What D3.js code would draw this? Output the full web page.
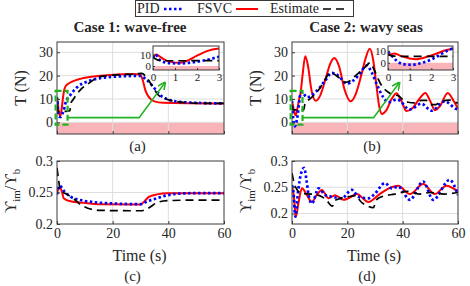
<!DOCTYPE html>
<html>
<head>
<meta charset="utf-8">
<script src="https://cdn.jsdelivr.net/npm/d3@7"></script>
<style>
  body { margin: 0; background: #fff; }
  text { font-family: "Liberation Serif", "Times New Roman", serif; fill: #262626; }
</style>
</head>
<body>
<div id="chart"></div>
<script>
// time axis + ticks
const timeTicks = [0, 20, 40, 60];
const tensionTicks = [0, 10, 20, 30];
const ratioTicks = [0.2, 0.25, 0.3];
const ratioTickLabels = ['0.2', '0.25', '0.3'];
const insetTimeTicks = [0, 1, 2, 3];
const insetTensionTicks = [0, 10];

const seriesNames = ['PID', 'FSVC', 'Estimate'];
const titles = ['Case 1: wave-free', 'Case 2: wavy seas'];
const panelTags = ['(a)', '(b)', '(c)', '(d)'];

// (a) tension, wave-free  [t, T]
const pidA = [[0,7.4],[0.1,10.3],[0.3,5.5],[0.7,2.6],[1.3,2.3],[2,3.8],[2.6,6],[3,8.1],[4.8,11.7],[7.2,15],[10.8,17.4],[15.5,18.9],[21.5,19.6],[30,19.9],[32.3,18.1],[34.7,15],[37,11.7],[39.4,10],[43,8.9],[49,8.4],[60,8.1]];
const fsvcA = [[0,6.5],[0.12,10],[0.3,8.5],[0.5,5.8],[0.8,3.6],[1.2,2.8],[1.5,4.2],[2,9],[2.45,13],[3,15.3],[4,16.5],[5.4,17.4],[8.4,18.6],[13,19.6],[19,20.3],[27.5,20.7],[29.9,20.4],[30.8,18.1],[31.7,13.9],[32.9,11],[34.7,9.1],[38.2,8.4],[60,8.1]];
const estA = [[0,7.4],[0.3,4.8],[0.6,4.6],[3,4.7],[4.6,5],[5.1,8.5],[5.7,9.6],[8.4,13.9],[11.4,16.7],[15.5,19.6],[21.5,20.3],[27.5,20.7],[30.5,21],[31.7,19.9],[34,16],[36.4,11.7],[39.4,9.9],[43,8.9],[46.6,8.4],[52,8.1],[60,8.1]];

// (b) tension, wavy seas
const pidB = [[0,9.2],[0.15,6.4],[0.4,1.7],[0.7,-1.1],[1.1,-1.7],[1.45,-0.6],[2.1,3.6],[2.55,8.3],[3,12],[3.5,13.1],[5.4,10.7],[7,11.5],[9.6,14.3],[12,17.9],[14.4,21.2],[16.5,20.2],[19.8,16.6],[22,17.8],[24,20],[27,24.3],[28.8,21.4],[30.6,16.4],[33,10.7],[34.8,8.6],[38,9.8],[42.6,5.5],[46.8,8],[50.4,5],[55.2,9],[59.4,5.7],[60,5.5]];
const fsvcB = [[0,6.4],[0.3,7.8],[0.55,6],[1,3.6],[1.3,3],[1.8,5],[2.25,7.8],[2.7,10.6],[3,11.8],[3.8,20],[4.8,28.3],[5.8,24],[7,14],[8.6,9.2],[10,11],[12,18],[13.8,25],[15.3,27.5],[17,24],[19,14],[21.2,9],[23,12],[25,20],[26.5,27],[28.1,31.5],[29.3,27],[30.5,16],[31.5,7],[32.5,3.6],[34,5],[36,10],[37.8,12.5],[39.6,9],[41.4,4.8],[43.5,6],[46,10],[48.2,12.6],[50,9],[51.7,5.2],[53.5,7],[56.3,12.6],[58.5,9],[60,5.8]];
const estB = [[0,7.2],[0.23,5.6],[1,5.3],[3,5.3],[4.2,5.3],[4.8,8.5],[6,9.6],[7.8,11.4],[10,14.5],[12,18.5],[13.8,21.3],[15,20.8],[16.8,19.3],[19.2,17.1],[21,17.8],[23,20],[26.4,23.6],[28.2,25.5],[29.5,23],[31,19],[32.4,15.7],[34.8,12.9],[36.5,11.8],[38.4,11.4],[40.2,9.6],[42,8.6],[44.4,8.3],[46.8,9.4],[48.5,9.4],[50.4,7.6],[52,7.6],[54,9],[57,9.5],[58.5,8.8],[60,8.2]];

// (c) gap ratio, wave-free
const pidC = [[0,0.247],[1,0.261],[2.4,0.253],[4.8,0.2435],[8.4,0.238],[13.2,0.2347],[20.4,0.2325],[30,0.2314],[32.4,0.236],[36,0.241],[39.6,0.2456],[43,0.248],[50,0.249],[60,0.249]];
const fsvcC = [[0,0.25],[1,0.258],[1.8,0.251],[2.4,0.241],[4.8,0.236],[9.6,0.2336],[15.6,0.2314],[30,0.231],[31.2,0.235],[33,0.243],[36,0.247],[39.6,0.249],[60,0.249]];
const estC = [[0,0.289],[0.6,0.269],[1.2,0.253],[3.6,0.247],[6,0.24],[8.4,0.231],[10.8,0.2255],[15.6,0.2216],[30,0.221],[32.4,0.224],[36,0.234],[39.6,0.237],[50,0.238],[60,0.238]];

// (d) gap ratio, wavy seas
const pidD = [[0,0.254],[0.5,0.242],[1.2,0.194],[2.2,0.242],[3.2,0.275],[4.4,0.287],[5.2,0.265],[6,0.235],[7.2,0.219],[9.6,0.248],[12,0.235],[14.4,0.232],[18,0.229],[21.6,0.245],[24,0.232],[27.6,0.229],[30,0.238],[33.6,0.258],[36,0.248],[38.4,0.251],[42.6,0.226],[47.4,0.261],[51,0.226],[57,0.264],[60,0.235]];
const fsvcD = [[0,0.251],[0.6,0.235],[1.4,0.194],[2.4,0.222],[3.6,0.248],[5.4,0.235],[7.2,0.222],[9,0.236],[10.8,0.245],[13.2,0.229],[15.6,0.235],[18.6,0.226],[20.4,0.229],[23.4,0.237],[27.6,0.222],[31.2,0.235],[35,0.248],[38.4,0.253],[42.6,0.237],[47.4,0.256],[51.6,0.237],[55.8,0.253],[60,0.242]];
const estD = [[0,0.277],[1.2,0.251],[3.6,0.238],[7,0.237],[10.8,0.232],[12.5,0.225],[14.6,0.214],[15.4,0.224],[17,0.228],[20.4,0.232],[23.5,0.234],[24.5,0.225],[27,0.215],[29.4,0.211],[30.5,0.226],[32.4,0.232],[37.2,0.237],[42,0.242],[46,0.237],[50,0.24],[55,0.237],[60,0.24]];

// zoom box + pointer, in data units (t, T)
const zoomBox = [[-0.5, -1], [3.8, 13.5]];
const zoomPointer = [[3.8, 2], [29.5, 2], [38.8, 17]];

const W = 470, H = 286;
const svg = d3.select('#chart').append('svg').attr('width', W).attr('height', H);

const styles = {
  PID: {stroke: '#0000ff', width: 2.7, dash: '2.5,2.5'},
  FSVC: {stroke: '#ff0000', width: 2, dash: null},
  Estimate: {stroke: '#000', width: 1.7, dash: '8,5'}
};
const pink = '#f9b4b9';
const green = '#22b322';
const boxColor = '#3a3a3a';

const defs = svg.append('defs');
defs.append('marker').attr('id', 'arrow')
  .attr('viewBox', '0 0 10 10').attr('refX', 9).attr('refY', 5)
  .attr('markerWidth', 8).attr('markerHeight', 8)
  .attr('markerUnits', 'userSpaceOnUse').attr('orient', 'auto')
  .append('path').attr('d', 'M0,0 L10,5 L0,10').attr('fill', 'none')
  .attr('stroke', green).attr('stroke-width', 2);

let clipN = 0;
function drawSeries(g, x, y, data, clipId) {
  const line = d3.line().x(d => x(d[0])).y(d => y(d[1])).curve(d3.curveMonotoneX);
  const lg = g.append('g').attr('clip-path', `url(#${clipId})`);
  // red under blue, dashed black on top
  ['FSVC', 'PID', 'Estimate'].forEach(name => {
    const s = styles[name];
    lg.append('path').datum(data[name])
      .attr('d', line).attr('fill', 'none')
      .attr('stroke', s.stroke).attr('stroke-width', s.width)
      .attr('stroke-dasharray', s.dash)
      .attr('stroke-linejoin', 'round');
  });
}

function panel(p) {
  const x = d3.scaleLinear().domain(p.xDomain).range([p.left, p.right]);
  const y = d3.scaleLinear().domain(p.yDomain).range([p.bottom, p.top]);
  const g = svg.append('g');
  const clipId = 'clip' + (clipN++);
  defs.append('clipPath').attr('id', clipId).append('rect')
    .attr('x', p.left).attr('y', p.top)
    .attr('width', p.right - p.left).attr('height', p.bottom - p.top);

  g.append('rect').attr('x', p.left).attr('y', p.top)
    .attr('width', p.right - p.left).attr('height', p.bottom - p.top).attr('fill', '#fff');

  if (p.pink) {
    g.append('rect').attr('x', p.left).attr('y', y(0))
      .attr('width', p.right - p.left).attr('height', p.bottom - y(0)).attr('fill', pink);
  }

  if (p.grid) {
    g.append('g').selectAll('line').data(p.xTicks.slice(1, -1)).join('line')
      .attr('x1', d => x(d)).attr('x2', d => x(d)).attr('y1', p.top).attr('y2', p.bottom)
      .attr('stroke', '#dedede').attr('stroke-width', 1);
    g.append('g').selectAll('line').data(p.yTicks.filter(v => y(v) > p.top + 2 && y(v) < p.bottom - 2)).join('line')
      .attr('x1', p.left).attr('x2', p.right).attr('y1', d => y(d)).attr('y2', d => y(d))
      .attr('stroke', '#dedede').attr('stroke-width', 1);
  }

  drawSeries(g, x, y, p.data, clipId);

  // box
  g.append('rect').attr('x', p.left).attr('y', p.top)
    .attr('width', p.right - p.left).attr('height', p.bottom - p.top)
    .attr('fill', 'none').attr('stroke', boxColor).attr('stroke-width', 1);

  const fs = p.fontSize || 14;
  const ya = g.append('g').attr('transform', `translate(${p.left},0)`)
    .call(d3.axisLeft(y).tickValues(p.yTicks).tickSize(-p.tick).tickPadding(p.pad || 4)
      .tickFormat((d, i) => p.yLabels ? p.yLabels[i] : d));
  const xa = g.append('g').attr('transform', `translate(0,${p.bottom})`)
    .call(d3.axisBottom(x).tickValues(p.xTicks).tickSize(-p.tick).tickPadding(p.xPad || 5)
      .tickFormat(p.showX ? (d => d) : ''));
  [ya, xa].forEach(a => {
    a.select('.domain').remove();
    a.selectAll('line').attr('stroke', boxColor);
    a.selectAll('text').attr('font-size', fs).attr('fill', '#262626')
      .style('font-family', '"Liberation Serif", "Times New Roman", serif');
  });
  return {x, y, g};
}

function mainTension(left, right, data, tag, title, titleX) {
  const P = panel({
    left, right, top: 42, bottom: 134,
    xDomain: [0, 60], yDomain: [-5, 34.4],
    xTicks: timeTicks, yTicks: tensionTicks,
    tick: 3, grid: true, pink: true, showX: false, data
  });
  const {x, y} = P;

  // green zoom box + pointer
  svg.append('rect')
    .attr('x', x(zoomBox[0][0])).attr('y', y(zoomBox[1][1]))
    .attr('width', x(zoomBox[1][0]) - x(zoomBox[0][0]))
    .attr('height', y(zoomBox[0][1]) - y(zoomBox[1][1]))
    .attr('fill', 'none').attr('stroke', green).attr('stroke-width', 2.2)
    .attr('stroke-dasharray', '6,3');
  svg.append('path')
    .attr('d', d3.line().x(d => x(d[0])).y(d => y(d[1]))(zoomPointer))
    .attr('fill', 'none').attr('stroke', green).attr('stroke-width', 1.6)
    .attr('marker-end', 'url(#arrow)');

  // y label
  svg.append('text').attr('transform', `translate(${left - 31},${88}) rotate(-90)`)
    .attr('text-anchor', 'middle').attr('font-size', 16).text('T (N)');
  svg.append('text').attr('x', titleX).attr('y', 32).attr('text-anchor', 'middle')
    .attr('font-size', 15).attr('font-weight', 'bold').text(title);
  svg.append('text').attr('x', (left + right) / 2 - 3).attr('y', 151).attr('text-anchor', 'middle')
    .attr('font-size', 15).text(tag);
  return P;
}

function inset(left, right, yDomain, data) {
  const P = panel({
    left, right, top: 46, bottom: 70,
    xDomain: [0, 3], yDomain,
    xTicks: insetTimeTicks, yTicks: insetTensionTicks,
    tick: 2, grid: false, pink: true, showX: true, data,
    fontSize: 11, pad: 2, xPad: 3
  });
  return P;
}

function mainRatio(left, right, yDomain, data, tag) {
  panel({
    left, right, top: 161, bottom: 224,
    xDomain: [0, 60], yDomain,
    xTicks: timeTicks, yTicks: ratioTicks, yLabels: ratioTickLabels,
    tick: 3, grid: true, pink: false, showX: true, data, xPad: 4
  });
  const lab = svg.append('text')
    .attr('transform', `translate(${left - 41},${191}) rotate(-90)`)
    .attr('text-anchor', 'middle').attr('font-size', 16);
  lab.append('tspan').text('ϒ');
  lab.append('tspan').attr('font-size', 11).attr('dy', 4).text('im');
  lab.append('tspan').attr('dy', -4).text('/ϒ');
  lab.append('tspan').attr('font-size', 11).attr('dy', 4).text('b');
  svg.append('text').attr('x', (left + right) / 2 - 1).attr('y', 261).attr('text-anchor', 'middle')
    .attr('font-size', 16).text('Time (s)');
  svg.append('text').attr('x', (left + right) / 2 - 8).attr('y', 281).attr('text-anchor', 'middle')
    .attr('font-size', 15).text(tag);
}

const dataA = {PID: pidA, FSVC: fsvcA, Estimate: estA};
const dataB = {PID: pidB, FSVC: fsvcB, Estimate: estB};
const dataC = {PID: pidC, FSVC: fsvcC, Estimate: estC};
const dataD = {PID: pidD, FSVC: fsvcD, Estimate: estD};

mainTension(57, 224, dataA, panelTags[0], titles[0], 130);
inset(153, 219, [-3.5, 17.5], dataA);
mainTension(292, 458, dataB, panelTags[1], titles[1], 366);
inset(388, 453, [-6, 14], dataB);
mainRatio(57, 224, [0.2, 0.3], dataC, panelTags[2]);
mainRatio(292, 458, [0.18, 0.3], dataD, panelTags[3]);

// legend: label then sample
const leg = svg.append('g');
leg.append('rect').attr('x', 135.5).attr('y', 0.5).attr('width', 218).attr('height', 16)
  .attr('fill', '#fff').attr('stroke', boxColor).attr('stroke-width', 1);
const legItems = [
  {name: seriesNames[0], tx: 137, x1: 164, x2: 184},
  {name: seriesNames[1], tx: 197, x1: 236, x2: 258},
  {name: seriesNames[2], tx: 270, x1: 323, x2: 346}
];
legItems.forEach(it => {
  const s = styles[it.name];
  leg.append('text').attr('x', it.tx).attr('y', 13).attr('font-size', 14).text(it.name);
  leg.append('line').attr('x1', it.x1).attr('x2', it.x2).attr('y1', 9).attr('y2', 9)
    .attr('stroke', s.stroke).attr('stroke-width', s.width).attr('stroke-dasharray', s.dash);
});
</script>
</body>
</html>
